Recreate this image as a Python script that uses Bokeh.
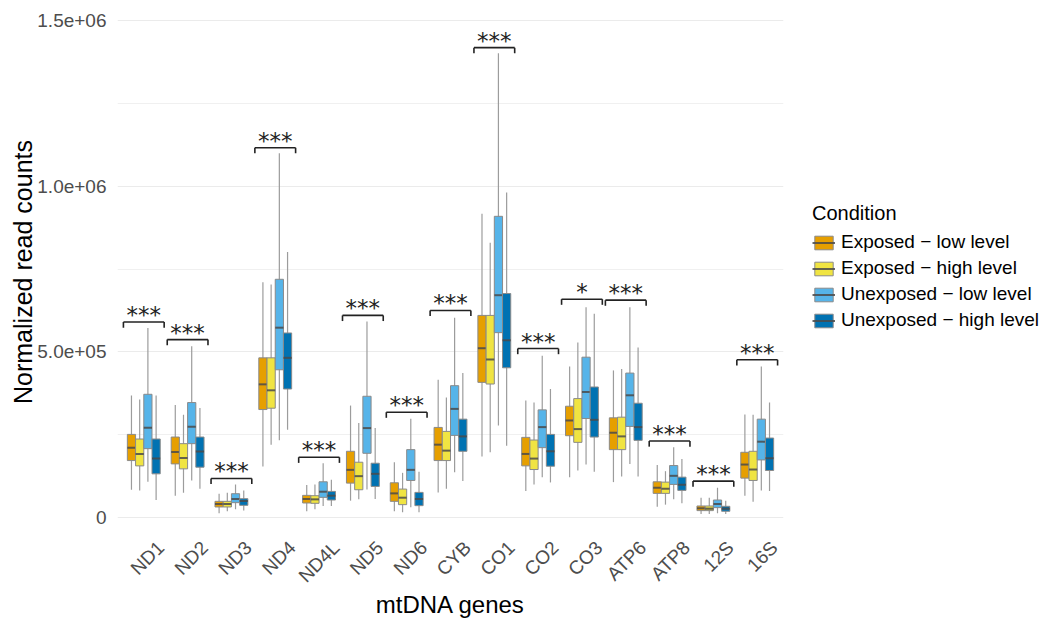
import math
from bokeh.plotting import figure
from bokeh.models import (ColumnDataSource, Range1d, FixedTicker, Legend, LegendItem)
from bokeh.transform import dodge
from bokeh.core.properties import value
from bokeh.embed import file_html
from bokeh.resources import INLINE

genes = ["ND1", "ND2", "ND3", "ND4", "ND4L", "ND5", "ND6", "CYB", "CO1", "CO2",
         "CO3", "ATP6", "ATP8", "12S", "16S"]
conditions = ["Exposed \u2212 low level", "Exposed \u2212 high level",
              "Unexposed \u2212 low level", "Unexposed \u2212 high level"]

# Exposed - low level
el_lower = [84000, 66000, 13000, 154000, 19000, 51000, 19000, 76000, 184000, 80000, 122000, 107000, 33000, 11000, 66000]
el_q1 = [172000, 162000, 32000, 326000, 44000, 104000, 49000, 172000, 408000, 156000, 247000, 205000, 73000, 21000, 119000]
el_med = [211000, 198000, 41000, 402000, 56000, 144000, 73000, 220000, 511000, 192000, 293000, 256000, 90000, 28000, 160000]
el_q3 = [251000, 243000, 49000, 482000, 67000, 200000, 105000, 272000, 610000, 242000, 336000, 301000, 108000, 35000, 197000]
el_upper = [368000, 340000, 72000, 710000, 98000, 338000, 167000, 416000, 917000, 353000, 456000, 444000, 159000, 60000, 311000]

# Exposed - high level
eh_lower = [82000, 75000, 19000, 220000, 25000, 55000, 16000, 87000, 197000, 100000, 142000, 124000, 39000, 11000, 48000]
eh_q1 = [156000, 147000, 32000, 330000, 43000, 84000, 39000, 172000, 403000, 145000, 227000, 205000, 73000, 21000, 112000]
eh_med = [192000, 180000, 41000, 384000, 55000, 125000, 60000, 202000, 477000, 178000, 267000, 245000, 87000, 27000, 145000]
eh_q3 = [237000, 223000, 49000, 482000, 66000, 167000, 86000, 260000, 610000, 234000, 359000, 303000, 107000, 35000, 200000]
eh_upper = [356000, 310000, 75000, 703000, 100000, 285000, 135000, 362000, 829000, 347000, 528000, 448000, 140000, 60000, 310000]

# Unexposed - low level
ul_lower = [108000, 112000, 25000, 233000, 35000, 85000, 31000, 137000, 278000, 122000, 160000, 162000, 55000, 13000, 82000]
ul_q1 = [208000, 223000, 45000, 446000, 61000, 194000, 112000, 248000, 558000, 211000, 299000, 275000, 100000, 30000, 174000]
ul_med = [271000, 274000, 56000, 573000, 78000, 270000, 144000, 328000, 671000, 273000, 379000, 369000, 126000, 41000, 229000]
ul_q3 = [372000, 347000, 72000, 719000, 108000, 366000, 205000, 398000, 909000, 325000, 484000, 436000, 157000, 53000, 297000]
ul_upper = [572000, 517000, 100000, 1099000, 164000, 592000, 298000, 603000, 1401000, 488000, 635000, 635000, 212000, 90000, 456000]

# Unexposed - high level
uh_lower = [53000, 87000, 21000, 265000, 35000, 56000, 16000, 110000, 217000, 106000, 138000, 124000, 43000, 11000, 80000]
uh_q1 = [132000, 152000, 37000, 388000, 53000, 94000, 36000, 200000, 452000, 155000, 243000, 233000, 82000, 19000, 142000]
uh_med = [178000, 199000, 50000, 482000, 66000, 132000, 56000, 245000, 535000, 200000, 295000, 273000, 99000, 27000, 179000]
uh_q3 = [237000, 243000, 57000, 557000, 79000, 164000, 76000, 297000, 676000, 251000, 394000, 345000, 122000, 34000, 240000]
uh_upper = [368000, 331000, 82000, 801000, 114000, 270000, 138000, 436000, 981000, 388000, 615000, 513000, 177000, 51000, 347000]

# significance brackets
sig_labels = ["***", "***", "***", "***", "***", "***", "***", "***", "***", "***",
              "*", "***", "***", "***", "***"]
sig_y = [590000, 537000, 118000, 1116000, 182000, 610000, 318000, 625000, 1418000, 510000,
         659000, 656000, 231000, 110000, 476000]

y_ticks = [0, 500000, 1000000, 1500000]
y_tick_labels = ["0", "5.0e+05", "1.0e+06", "1.5e+06"]
y_minor = [250000, 750000, 1250000]

colors = ["#E69F00", "#F0E442", "#56B4E9", "#0072B2"]
stats = [
    (el_lower, el_q1, el_med, el_q3, el_upper),
    (eh_lower, eh_q1, eh_med, eh_q3, eh_upper),
    (ul_lower, ul_q1, ul_med, ul_q3, ul_upper),
    (uh_lower, uh_q1, uh_med, uh_q3, uh_upper),
]

FONT = "Liberation Sans"
PAD = 0.1
# discrete positions: category i is centred at i + 0.5 (one unit per gene)
pos = [i + 0.5 for i in range(len(genes))]

p = figure(x_range=Range1d(-PAD, len(genes) + PAD),
           y_range=Range1d(-39000, 1521000),
           frame_width=666, frame_height=517,
           min_border_left=117, min_border_top=13, min_border_bottom=80, min_border_right=258,
           output_backend="svg", toolbar_location=None)
p.outline_line_color = None
p.background_fill_color = "white"
p.border_fill_color = "white"

box_w = 0.1875
offsets = [-0.28125, -0.09375, 0.09375, 0.28125]
items = []
for (lo, q1, md, q3, up), col, off, name in zip(stats, colors, offsets, conditions):
    src = ColumnDataSource(dict(gene=genes, pos=pos, lower=lo, q1=q1, med=md, q3=q3, upper=up))
    p.segment(x0=dodge("pos", off), y0="lower", x1=dodge("pos", off), y1="upper",
              source=src, line_color="#9c9c9c", line_width=1.2)
    rb = p.vbar(x=dodge("pos", off), width=box_w, bottom="q1", top="q3",
                source=src, fill_color=col, line_color="#8a8a8a", line_width=1)
    rm = p.segment(x0=dodge("pos", off - box_w / 2), y0="med",
                   x1=dodge("pos", off + box_w / 2), y1="med",
                   source=src, line_color="#4a4a4a", line_alpha=0.85, line_width=2)
    items.append(LegendItem(label=name, renderers=[rb, rm]))

# significance brackets
sig_src = ColumnDataSource(dict(gene=genes, pos=pos, y=sig_y, label=sig_labels,
                                tip=[v - 17000 for v in sig_y]))
half = 0.465
p.segment(x0=dodge("pos", -half), y0="y", x1=dodge("pos", half), y1="y",
          source=sig_src, line_color="#222222", line_width=1.6)
p.segment(x0=dodge("pos", -half), y0="y", x1=dodge("pos", -half), y1="tip",
          source=sig_src, line_color="#222222", line_width=1.6)
p.segment(x0=dodge("pos", half), y0="y", x1=dodge("pos", half), y1="tip",
          source=sig_src, line_color="#222222", line_width=1.6)
p.text(x="pos", y="y", text="label", source=sig_src, text_align="center",
       text_baseline="alphabetic", text_font=value("DejaVu Sans"), text_font_size="23px",
       text_color="#222222", y_offset=-7)

# x axis: gene names (rotated labels anchored slightly right of each category centre)
lab_ticks = [x + 0.39 for x in pos]
p.xaxis.ticker = FixedTicker(ticks=lab_ticks, minor_ticks=[])
p.xaxis.major_label_overrides = {t: g for t, g in zip(lab_ticks, genes)}
p.xaxis.axis_label = "mtDNA genes"

p.yaxis.ticker = FixedTicker(ticks=y_ticks, minor_ticks=y_minor)
p.yaxis.major_label_overrides = {t: l for t, l in zip(y_ticks, y_tick_labels)}
for ax in (p.xaxis[0], p.yaxis[0]):
    ax.axis_line_color = None
    ax.major_tick_line_color = None
    ax.minor_tick_line_color = None
    ax.major_label_text_font = FONT
    ax.major_label_text_font_size = "19px"
    ax.major_label_text_color = "#4D4D4D"
    ax.axis_label_text_font = FONT
    ax.axis_label_text_font_size = "24px"
    ax.axis_label_text_font_style = "normal"
    ax.axis_label_text_color = "black"
p.yaxis.axis_label = "Normalized read counts"
p.yaxis.axis_label_text_font_size = "25px"
p.yaxis.major_label_standoff = 5
p.yaxis.axis_label_standoff = -3
p.xaxis.major_label_orientation = math.pi / 4
p.xaxis.major_label_standoff = 8
p.xaxis.axis_label_standoff = -6

p.xgrid.grid_line_color = None
p.ygrid.grid_line_color = "#EBEBEB"
p.ygrid.grid_line_width = 1.2
p.ygrid.minor_grid_line_color = "#F0F0F0"
p.ygrid.minor_grid_line_width = 1

legend = Legend(items=items, title="Condition", location=(29, 199),
                title_text_font=FONT, title_text_font_size="20px", title_text_color="black",
                title_text_font_style="normal", title_standoff=6,
                label_text_font=FONT, label_text_font_size="19px", label_text_color="black",
                glyph_width=23, glyph_height=17, label_standoff=6, label_height=22, spacing=4,
                margin=0, padding=0, border_line_color=None, background_fill_alpha=0)
p.add_layout(legend, "right")

open("out.html", "w").write(file_html(p, INLINE))
